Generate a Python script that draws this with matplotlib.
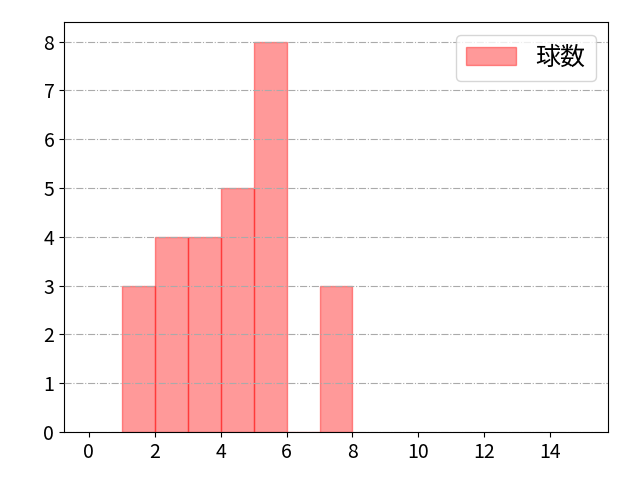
import matplotlib
matplotlib.use("Agg")
import matplotlib.pyplot as plt

plt.rcParams['font.family'] = ['Noto Sans CJK JP', 'DejaVu Sans']
plt.rcParams['font.size'] = 14

# histogram bins (width 1) and counts
bin_edges = [1, 2, 3, 4, 5, 6, 7, 8]
counts = [3, 4, 4, 5, 8, 0, 3]
label = '球数'

fig, ax = plt.subplots(figsize=(6.4, 4.8), dpi=100)
ax.hist(bin_edges[:-1], bins=bin_edges, weights=counts,
        color='red', alpha=0.4, edgecolor='red', label=label)
ax.grid(axis='y', linestyle='-.', color='#aaaaaa')
ax.set_axisbelow(False)
ax.set_xlim(-0.75, 15.75)
ax.set_ylim(0, 8.4)
ax.set_xticks(range(0, 15, 2))
ax.set_yticks(range(0, 9))
ax.legend(loc='upper right', fontsize=18)
fig.subplots_adjust(left=0.1, right=0.95, top=0.954, bottom=0.1)
fig.savefig('out.png')
